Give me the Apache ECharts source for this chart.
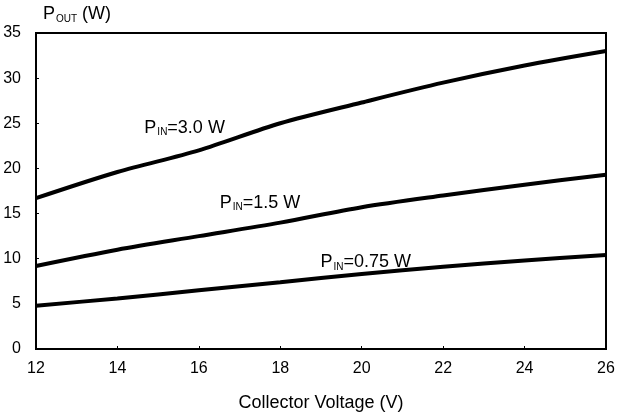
<!DOCTYPE html>
<html>
<head>
<meta charset="utf-8">
<script src="https://cdn.jsdelivr.net/npm/echarts@6/dist/echarts.min.js"></script>
<style>
  html, body { margin: 0; padding: 0; background: #fff; }
  #chart { width: 631px; height: 419px; }
</style>
</head>
<body>
<div id="chart"></div>
<script>
// collector voltage (V)
const voltage = [12, 14, 16, 18, 20, 22, 24, 26];
// output power (W) for each input power
const pout30 = [16.7, 19.6, 22.0, 25.0, 27.3, 29.5, 31.4, 33.0];
const pout15 = [9.2, 11.0, 12.5, 14.0, 15.7, 17.0, 18.2, 19.3];
const pout075 = [4.8, 5.6, 6.5, 7.4, 8.3, 9.1, 9.8, 10.4];
// curve labels: [text, subscript, rest, x, y]
const curveLabels = [
    ['P', 'IN', '=3.0 W', 15.65, 24.5],
    ['P', 'IN', '=1.5 W', 17.5, 16.2],
    ['P', 'IN', '=0.75 W', 20.1, 9.6]
];

const chart = echarts.init(document.getElementById('chart'));

const baseFont = { fontFamily: 'Liberation Sans, Arial, sans-serif', color: '#000' };

function pairs(ys) {
    return voltage.map((v, i) => [v, ys[i]]);
}

const richText = {
    m: { fontSize: 18, ...baseFont },
    s: { fontSize: 10, ...baseFont, padding: [9, 0, 0, 1] }
};

const series = [pout30, pout15, pout075].map((ys, i) => ({
    type: 'line',
    data: pairs(ys),
    smooth: 0.3,
    symbol: 'none',
    lineStyle: { color: '#000', width: 4 },
    markPoint: {
        symbolSize: 0,
        label: {
            show: true,
            formatter: `{m|${curveLabels[i][0]}}{s|${curveLabels[i][1]}}{m|${curveLabels[i][2]}}`,
            rich: richText
        },
        data: [{ coord: [curveLabels[i][3], curveLabels[i][4]] }]
    }
}));

const option = {
    animation: false,
    grid: {
        left: 36, right: 25, top: 33, bottom: 70,
        show: true, borderColor: '#000', borderWidth: 2
    },
    xAxis: {
        type: 'value',
        min: 12, max: 26, interval: 2,
        name: 'Collector Voltage (V)',
        nameLocation: 'middle',
        nameGap: 45,
        nameTextStyle: { fontSize: 18, ...baseFont },
        axisLine: { lineStyle: { color: '#000', width: 2 } },
        axisTick: { show: true, inside: true, length: 3, lineStyle: { color: '#000' } },
        axisLabel: { fontSize: 16, margin: 12, ...baseFont },
        splitLine: { show: false }
    },
    yAxis: {
        type: 'value',
        min: 0, max: 35, interval: 5,
        name: '{m|P}{s|OUT}{m| (W)}',
        nameLocation: 'end',
        nameGap: 9,
        nameTextStyle: { align: 'left', padding: [0, 0, 0, 7], rich: richText },
        axisLine: { lineStyle: { color: '#000', width: 2 } },
        axisTick: { show: true, inside: true, length: 3, lineStyle: { color: '#000' } },
        axisLabel: { fontSize: 16, margin: 15, ...baseFont },
        splitLine: { show: false }
    },
    series: series
};

chart.setOption(option);
</script>
</body>
</html>
